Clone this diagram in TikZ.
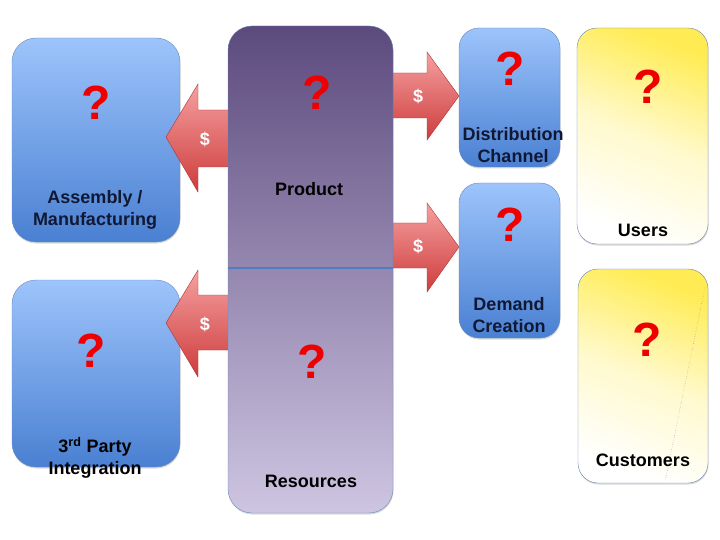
\documentclass[tikz,border=0pt]{standalone}
\usepackage{fontspec}
\setmainfont{Liberation Sans}
\usetikzlibrary{positioning}
\usetikzlibrary{shadows}

\definecolor{boxtop}{HTML}{9DC4FB}
\definecolor{boxbot}{HTML}{4A80D2}
\definecolor{boxline}{HTML}{6688BB}
\definecolor{coretop}{HTML}{5C4A7D}
\definecolor{corebot}{HTML}{CEC5E2}
\definecolor{cashtop}{HTML}{F5A0A0}
\definecolor{cashbot}{HTML}{CE3C3C}
\definecolor{sunny}{HTML}{FFEC55}
\definecolor{navytext}{HTML}{111833}
\definecolor{qred}{HTML}{EE0000}
\definecolor{splitline}{HTML}{4F7DC0}

\tikzset{
  boxshadow/.style={drop shadow={opacity=0.3, shadow xshift=0.5pt, shadow yshift=-1.5pt}},
  bluebox/.style={draw=boxline, rounded corners=24pt, top color=boxtop, bottom color=boxbot, inner sep=0pt, boxshadow},
  corebox/.style={draw=boxline, rounded corners=24pt, top color=coretop, bottom color=corebot, inner sep=0pt, boxshadow},
  sunbox/.style={draw=boxline!80!gray, rounded corners=20pt, bottom color=white, top color=sunny, middle color=sunny!30!white, shading angle=-22, inner sep=0pt, boxshadow},
  cash/.style={top color=cashtop, bottom color=cashbot, draw=cashbot!85!black, thin},
  cashsign/.style={text=white, font=\bfseries\fontsize{18}{18}\selectfont},
  qmark/.style={text=qred, font=\bfseries\fontsize{48}{48}\selectfont},
  boxlabel/.style={align=center, font=\bfseries\fontsize{18}{22}\selectfont},
  divider/.style={draw=splitline, line width=2pt},
}

\begin{document}
\begin{tikzpicture}[x=1pt, y=-1pt]
    \useasboundingbox (0,0) rectangle (720,540);

    % suppliers on the left
    \node[bluebox, minimum width=168pt, minimum height=204pt] (assembly) at (96,140) {};
    \node[bluebox, minimum width=168pt, minimum height=187pt] (thirdparty) at (96,373.5) {};

    % money going out
    \path[cash] (166,137) -- (198,84) -- (198,110) -- (232,110) -- (232,167) -- (198,167) -- (198,192) -- cycle;
    \path[cash] (166,323) -- (198,270) -- (198,295) -- (232,295) -- (232,350) -- (198,350) -- (198,377) -- cycle;
    \path[cash] (388,73) -- (427,73) -- (427,52) -- (459,96) -- (427,140) -- (427,118) -- (388,118) -- cycle;
    \path[cash] (388,223) -- (427,223) -- (427,203) -- (459,247) -- (427,292) -- (427,268) -- (388,268) -- cycle;

    % the company
    \node[corebox, minimum width=165pt, minimum height=487pt] (core) at (310.5,269.5) {};
    \draw[divider] ([yshift=1.5pt]core.west) -- ([yshift=1.5pt]core.east);

    % channels and markets
    \node[bluebox, rounded corners=20pt, minimum width=101pt, minimum height=139pt] (distribution) at (509.5,97.5) {};
    \node[bluebox, rounded corners=20pt, minimum width=101pt, minimum height=155pt] (demand) at (509.5,260.5) {};
    \node[sunbox, minimum width=131pt, minimum height=216pt] (users) at (642.5,136) {};
    \node[sunbox, minimum width=130pt, minimum height=214pt] (customers) at (643,376) {};
    \draw[gray, dotted, thin] (705,287) -- (665,482);

    % dollar signs
    \node[cashsign] (cashA) at (205,139) {\$};
    \node[cashsign] (cashB) at (205,324) {\$};
    \node[cashsign] (cashC) at (418,96) {\$};
    \node[cashsign] (cashD) at (418,246) {\$};

    % question marks
    \node[qmark] (qAssembly) at (96,103) {?};
    \node[qmark] (qThird) at (91,351) {?};
    \node[qmark] (qProduct) at (317,93) {?};
    \node[qmark] (qResources) at (312,362) {?};
    \node[qmark] (qDistribution) at (510,69) {?};
    \node[qmark] (qDemand) at (510,225) {?};
    \node[qmark] (qUsers) at (648,87) {?};
    \node[qmark] (qCustomers) at (647,340) {?};

    % labels
    \node[boxlabel, text=navytext] (lAssembly) at (95,210) {Assembly /\\Manufacturing};
    \node[boxlabel] (lThird) at (95,458) {3\textsuperscript{rd} Party\\Integration};
    \node[boxlabel] (lProduct) at (309,189) {Product};
    \node[boxlabel] (lResources) at (311,481) {Resources};
    \node[boxlabel, text=navytext] (lDistribution) at (513,145) {Distribution\\Channel};
    \node[boxlabel, text=navytext] (lDemand) at (509,315) {Demand\\Creation};
    \node[boxlabel] (lUsers) at (643,230) {Users};
    \node[boxlabel] (lCustomers) at (643,460) {Customers};
\end{tikzpicture}
\end{document}
